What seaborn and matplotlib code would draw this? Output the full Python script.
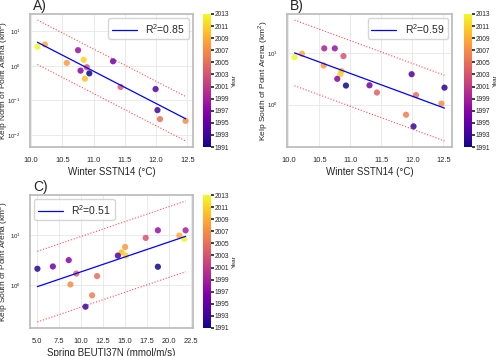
import numpy as np
import pandas as pd
import matplotlib
matplotlib.use("Agg")
import matplotlib.pyplot as plt
from matplotlib.ticker import MultipleLocator, FormatStrFormatter
import seaborn as sns

# one record per year
years = [2013, 2009, 1999, 1998, 2003, 2008, 2010, 2011, 1997, 1991,
         1996, 2004, 1994, 2005, 2006, 1993, 1992, 2007]
winter_sst = [10.10, 10.22, 10.58, 10.75, 10.89, 10.57, 10.86, 10.84, 10.79, 10.93,
              11.31, 11.43, 11.99, 12.06, 11.90, 12.02, 12.52, 12.47]
spring_beuti = [21.72, 21.16, 21.87, 18.73, 17.35, 15.02, 14.62, 15.10, 8.63, 18.73,
                6.83, 9.49, 14.20, 11.84, 11.28, 10.53, 5.08, 8.82]
# kelp area, log10(km^2); nan = not shown
log_kelp_north = [0.554, 0.62, np.nan, 0.455, -0.04, 0.087, -0.37, 0.175, -0.137, -0.216,
                  0.134, -0.61, -0.67, -1.54, np.nan, -1.28, np.nan, -1.59]
log_kelp_south = [0.92, 0.985, 1.09, 1.09, 0.94, 0.76, 0.655, 0.59, 0.50, 0.37,
                  0.375, 0.235, 0.59, 0.185, -0.195, -0.42, 0.33, 0.02]

r2_labels = ["R$^2$=0.85", "R$^2$=0.59", "R$^2$=0.51"]
panel_names = ["A)", "B)", "C)"]

df = pd.DataFrame({
    "year": years,
    "sst": winter_sst,
    "beuti": spring_beuti,
    "north": 10 ** np.array(log_kelp_north),
    "south": 10 ** np.array(log_kelp_south),
})

sns.set_theme(style="whitegrid")
plt.rcParams["font.family"] = ["Liberation Sans", "DejaVu Sans"]
plt.rcParams["mathtext.fontset"] = "custom"
plt.rcParams["mathtext.rm"] = "Liberation Sans"

W, H = 500, 356
fig = plt.figure(figsize=(W / 100, H / 100), dpi=100)


def px(l, t, r, b):
    return [l / W, 1 - b / H, (r - l) / W, (b - t) / H]


norm = plt.Normalize(1991, 2013)


def panel(ax_rect, cb_rect, xcol, ycol, xlabel, ylabel, r2, name, legend_loc,
          xstep, ylab_x):
    ax = fig.add_axes(px(*ax_rect))
    cax = fig.add_axes(px(*cb_rect))
    d = df.dropna(subset=[ycol])
    sns.scatterplot(data=d, x=xcol, y=ycol, hue="year", palette="plasma",
                    hue_norm=norm, s=20, alpha=0.85, edgecolor="none",
                    legend=False, ax=ax, zorder=3)
    x = d[xcol].to_numpy()
    ly = np.log10(d[ycol].to_numpy())
    slope, icept = np.polyfit(x, ly, 1)
    resid = ly - (slope * x + icept)
    s = np.sqrt(np.sum(resid ** 2) / (len(x) - 2))
    band = 2.16 * s * np.sqrt(1 + 1 / len(x))
    xs = np.linspace(x.min(), x.max(), 50)
    fit = slope * xs + icept
    ax.plot(xs, 10 ** fit, color="blue", lw=0.9, label=r2, zorder=4)
    ax.plot(xs, 10 ** (fit + band), color="red", ls=":", lw=0.8, alpha=0.7)
    ax.plot(xs, 10 ** (fit - band), color="red", ls=":", lw=0.8, alpha=0.7)
    ax.set_yscale("log")
    ax.xaxis.set_major_locator(MultipleLocator(xstep))
    ax.xaxis.set_major_formatter(FormatStrFormatter("%.1f"))
    ax.set_xlabel(xlabel, fontsize=7, labelpad=2)
    ax.set_ylabel(ylabel, fontsize=6)
    ax.yaxis.set_label_coords(ylab_x, 0.5)
    ax.tick_params(axis="x", labelsize=5.4, pad=1)
    ax.tick_params(axis="y", labelsize=4.4, pad=0.5)
    ax.grid(True, which="major", color="#e6e6e6", lw=0.6)
    for sp in ax.spines.values():
        sp.set_color("#bbbbbb")
    ax.legend(loc=legend_loc, fontsize=7.5, frameon=True, handlelength=2.4,
              borderpad=0.35, borderaxespad=0.4)
    ax.text(0.02, 1.01, name, transform=ax.transAxes, fontsize=10,
            ha="left", va="bottom")

    sm = plt.cm.ScalarMappable(cmap="plasma", norm=norm)
    cb = fig.colorbar(sm, cax=cax, ticks=range(1991, 2014, 2))
    cb.ax.tick_params(labelsize=4.8, length=2, pad=1)
    cb.outline.set_visible(False)
    cb.set_label("Year", fontsize=4.6, labelpad=2)
    return ax


panel((30, 14, 193, 147), (203, 14, 210.5, 147), "sst", "north",
      "Winter SSTN14 (\u00b0C)", "Kelp North of Point Arena (km$^2$)",
      r2_labels[0], panel_names[0], "upper right", 0.5, -0.125)
panel((287, 14, 452, 147), (464, 14, 471.5, 147), "sst", "south",
      "Winter SSTN14 (\u00b0C)", "Kelp South of Point Arena (km$^2$)",
      r2_labels[1], panel_names[1], "upper right", 0.5, -0.105)
panel((30, 195, 193, 328), (203, 195, 210.5, 328), "beuti", "south",
      "Spring BEUTI37N (mmol/m/s)", "Kelp South of Point Arena (km$^2$)",
      r2_labels[2], panel_names[2], "upper left", 2.5, -0.125)

fig.savefig("out.png", dpi=100)
